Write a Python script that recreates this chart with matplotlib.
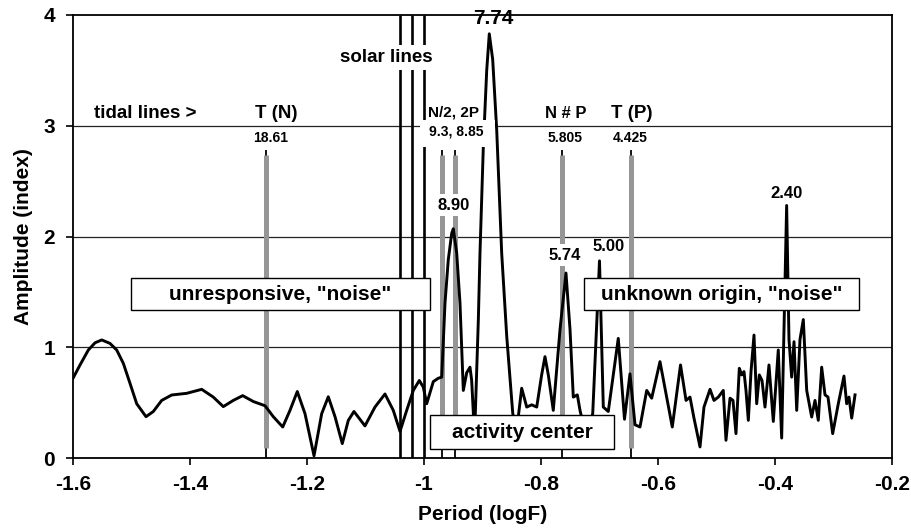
import matplotlib
matplotlib.use('Agg')
import matplotlib.pyplot as plt
from matplotlib.patches import Rectangle
import numpy as np

plt.rcParams['font.family'] = ['Liberation Sans', 'DejaVu Sans']
plt.rcParams['font.weight'] = 'bold'

# ---- data ----
log_f = [-1.6000, -1.5880, -1.5738, -1.5624, -1.5509, -1.5368, -1.5253, -1.5140, -1.5026,
         -1.4911, -1.4752, -1.4627, -1.4484, -1.4313, -1.4056, -1.3800, -1.3602, -1.3431,
         -1.3260, -1.3099, -1.2918, -1.2718, -1.2576, -1.2415, -1.2291, -1.2166, -1.2034,
         -1.1880, -1.1749, -1.1636, -1.1521, -1.1397, -1.1294, -1.1197, -1.1009, -1.0838,
         -1.0667, -1.0525, -1.0410, -1.0296, -1.0183, -1.0080, -1.0012, -0.9954, -0.9897,
         -0.9841, -0.9756, -0.9697, -0.9641, -0.9585, -0.9526, -0.9499, -0.9441, -0.9385,
         -0.9328, -0.9270, -0.9214, -0.9185, -0.9157, -0.9140, -0.9120, -0.9071, -0.9043,
         -0.8986, -0.8928, -0.8884, -0.8826, -0.8757, -0.8672, -0.8586, -0.8484, -0.8427,
         -0.8330, -0.8244, -0.8159, -0.8073, -0.7989, -0.7932, -0.7875, -0.7790, -0.7675,
         -0.7573, -0.7504, -0.7448, -0.7379, -0.7333, -0.7231, -0.7116,
         -0.7000, -0.6935, -0.6850, -0.6679, -0.6573, -0.6479, -0.6393, -0.6308, -0.6193,
         -0.6108, -0.5966, -0.5756, -0.5615, -0.5521, -0.5453, -0.5385, -0.5282, -0.5214,
         -0.5111, -0.5043, -0.4969, -0.4884, -0.4838, -0.4769, -0.4718, -0.4667, -0.4610,
         -0.4569, -0.4530, -0.4496, -0.4456, -0.4410, -0.4359, -0.4313, -0.4268, -0.4222,
         -0.4171, -0.4103, -0.4029, -0.3944, -0.3886, -0.3801, -0.3761, -0.3715, -0.3675,
         -0.3629, -0.3573, -0.3516, -0.3458, -0.3373, -0.3316, -0.3260, -0.3202, -0.3145,
         -0.3094, -0.3014, -0.2918, -0.2821, -0.2775, -0.2735, -0.2689, -0.2632]
amplitude = [0.72, 0.84, 0.975, 1.04, 1.066, 1.035, 0.975, 0.855, 0.675,
             0.49, 0.373, 0.42, 0.52, 0.569, 0.584, 0.62, 0.55, 0.464,
             0.52, 0.563, 0.51, 0.472, 0.373, 0.28, 0.43, 0.60, 0.40,
             0.02, 0.40, 0.553, 0.373, 0.13, 0.34, 0.42, 0.29, 0.46,
             0.578, 0.43, 0.24, 0.43, 0.61, 0.70, 0.64, 0.49, 0.59,
             0.69, 0.72, 0.73, 1.40, 1.79, 2.03, 2.07, 1.85, 1.40,
             0.61, 0.77, 0.82, 0.70, 0.41, 0.12, 0.45, 1.25, 1.85,
             2.81, 3.50, 3.83, 3.60, 2.96, 1.85, 1.10, 0.41, 0.20,
             0.63, 0.46, 0.48, 0.46, 0.75, 0.915, 0.75, 0.43, 1.16,
             1.67, 1.16, 0.55, 0.57, 0.43, 0.20, 0.40,
             1.78, 0.46, 0.42, 1.08, 0.35, 0.76, 0.30, 0.28, 0.61,
             0.54, 0.87, 0.28, 0.84, 0.52, 0.55, 0.36, 0.10, 0.46,
             0.62, 0.52, 0.55, 0.61, 0.16, 0.54, 0.52, 0.22, 0.81,
             0.75, 0.78, 0.61, 0.34, 0.78, 1.11, 0.49, 0.75, 0.70,
             0.46, 0.84, 0.33, 0.975, 0.18, 2.28, 1.07, 0.73, 1.05,
             0.43, 1.07, 1.25, 0.61, 0.37, 0.52, 0.34, 0.82, 0.57,
             0.55, 0.22, 0.49, 0.74, 0.49, 0.55, 0.36, 0.57]

solar_periods = [11.0, 10.5, 10.0]
tidal_periods = [18.61, 9.3, 8.85, 5.805, 4.425]
tidal_value_labels = ['18.61', '9.3, 8.85', '5.805', '4.425']
tidal_names = ['T (N)', 'N/2, 2P', 'N # P', 'T (P)']
peak_periods = [7.74, 8.90, 5.74, 5.00, 2.40]
peak_labels = ['7.74', '8.90', '5.74', '5.00', '2.40']

x_ticks = [-1.6, -1.4, -1.2, -1.0, -0.8, -0.6, -0.4, -0.2]
x_tick_labels = ['-1.6', '-1.4', '-1.2', '-1', '-0.8', '-0.6', '-0.4', '-0.2']
y_ticks = [0, 1, 2, 3, 4]

# ---- figure ----
fig = plt.figure(figsize=(9.12, 5.30), dpi=100)
ax = fig.add_axes([73/912, 72/530, 819/912, 443/530])
ax.set_xlim(-1.6, -0.2)
ax.set_ylim(0, 4)

for y in [1, 2, 3]:
    ax.axhline(y, color='#222222', lw=0.9, zorder=1)

solar_x = [-np.log10(p) for p in solar_periods]
ax.vlines(solar_x, 0, 4, color='black', lw=1.9, zorder=2)

tidal_x = [-np.log10(p) for p in tidal_periods]
ax.vlines(tidal_x, 0, 2.78, color='black', lw=1.3, zorder=2)
ax.vlines(tidal_x, 0.09, 2.74, color='#969696', lw=3.6, zorder=3)

ax.plot(log_f, amplitude, color='black', lw=2.1, zorder=4, solid_joinstyle='round')

# masks and labels
ax.text(-1.065, 3.616, 'solar lines', ha='center', va='center', fontsize=13.5, zorder=8,
        bbox=dict(facecolor='white', edgecolor='none', pad=3))
ax.add_patch(Rectangle((-1.0068, 2.808), 0.1282, 0.244, facecolor='white', edgecolor='none', zorder=5))

ax.text(-1.477, 3.115, 'tidal lines >', ha='center', va='center', fontsize=13.5, zorder=8)

name_pos = [(-1.252, 3.115, 13.5), (-0.9504, 3.124, 11), (-0.7573, 3.115, 12), (-0.6442, 3.115, 13.5)]
for name, (x, y, fs) in zip(tidal_names, name_pos):
    ax.text(x, y, name, ha='center', va='center', fontsize=fs, zorder=8)
val_pos = [(-1.2615, 2.89), (-0.945, 2.944), (-0.7590, 2.89), (-0.6476, 2.89)]
for lab, (x, y) in zip(tidal_value_labels, val_pos):
    ax.text(x, y, lab, ha='center', va='center', fontsize=10, zorder=8)

peak_label_y = [3.97, 2.28, 1.83, 1.91, 2.39]
peak_bbox = [False, True, True, False, False]
for p, lab, y, bb in zip(peak_periods, peak_labels, peak_label_y, peak_bbox):
    x = -np.log10(p)
    if lab == '7.74':
        x += 0.007
    if lab == '5.00':
        x += 0.014
    fs = 15 if lab == '7.74' else 12
    kw = dict(bbox=dict(facecolor='white', edgecolor='none', pad=2.5)) if bb else {}
    ax.text(x, y, lab, ha='center', va='center', fontsize=fs, zorder=8, clip_on=False, **kw)

boxes = [((-1.5009, 1.336), 0.5112, 0.289, 'unresponsive, "noise"'),
         ((-0.7265, 1.336), 0.4701, 0.289, 'unknown origin, "noise"'),
         ((-0.9897, 0.081), 0.3145, 0.307, 'activity center')]
for (x0, y0), w, h, txt in boxes:
    ax.add_patch(Rectangle((x0, y0), w, h, facecolor='white', edgecolor='black', lw=1.0, zorder=7))
    ax.text(x0 + w/2, y0 + h/2, txt, ha='center', va='center', fontsize=15, zorder=8)

ax.set_xticks(x_ticks)
ax.set_xticklabels(x_tick_labels)
ax.set_yticks(y_ticks)
ax.set_yticklabels([str(v) for v in y_ticks])
ax.tick_params(direction='out', length=5, width=1.2, labelsize=15)
ax.tick_params(axis='x', pad=7)
ax.tick_params(axis='y', pad=8)
for s in ax.spines.values():
    s.set_linewidth(1.3)

ax.set_xlabel('Period (logF)', fontsize=15, fontweight='bold')
ax.set_ylabel('Amplitude (index)', fontsize=15, fontweight='bold')
ax.xaxis.set_label_coords(0.5, -0.106)
ax.yaxis.set_label_coords(-0.049, 0.5)

fig.savefig('out.png', dpi=100)
